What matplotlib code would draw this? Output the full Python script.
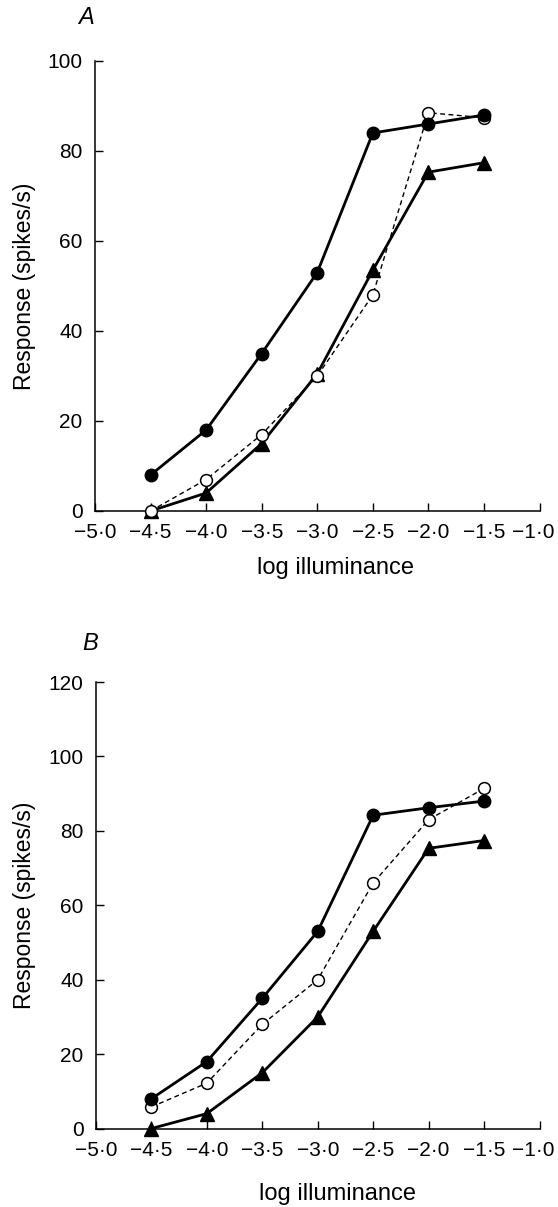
import matplotlib
matplotlib.use("Agg")
import matplotlib.pyplot as plt
import matplotlib.transforms as mtransforms

plt.rcParams['font.family'] = ['Liberation Sans', 'DejaVu Sans']

# log illuminance values (x)
log_illum = [-4.5, -4.0, -3.5, -3.0, -2.5, -2.0, -1.5]

# panel A responses (spikes/s)
a_filled = [8, 18, 35, 53, 84, 86, 88]
a_open = [0, 7, 17, 30, 48, 88.5, 87.4]
a_tri = [0, 4, 15, 30.5, 53.5, 75.3, 77.4]

# panel B responses (spikes/s)
b_filled = [8, 18, 35, 53, 84.2, 86.2, 88]
b_open = [5.8, 12.2, 28, 40, 66, 83, 91.4]
b_tri = [0, 4, 15, 30, 53, 75.3, 77.4]

xticks = [-5.0, -4.5, -4.0, -3.5, -3.0, -2.5, -2.0, -1.5, -1.0]
xticklabels = ['\u22125\u00b70', '\u22124\u00b75', '\u22124\u00b70', '\u22123\u00b75', '\u22123\u00b70',
               '\u22122\u00b75', '\u22122\u00b70', '\u22121\u00b75', '\u22121\u00b70']
a_yticks = [0, 20, 40, 60, 80, 100]
b_yticks = [0, 20, 40, 60, 80, 100, 120]

W, H = 558, 1207
fig = plt.figure(figsize=(W / 100, H / 100), dpi=100)


def panel(rect, filled, opn, tri, yticks, letter, letter_xy):
    ax = fig.add_axes(rect)
    # open circles, dashed
    ax.plot(log_illum, opn, color='black', lw=1.0, ls=(0, (3.5, 2.5)),
            marker='o', ms=8.5, mfc='white', mec='black', mew=1.1,
            clip_on=False, zorder=3)
    # triangles
    ax.plot(log_illum, tri, color='black', lw=2.0, marker='^', ms=9.5,
            mfc='black', mec='black', clip_on=False, zorder=2)
    # filled circles
    ax.plot(log_illum, filled, color='black', lw=2.0, marker='o', ms=9,
            mfc='black', mec='black', clip_on=False, zorder=4)

    ax.set_xlim(-5.0, -1.0)
    ax.set_ylim(yticks[0], yticks[-1])
    ax.set_xticks(xticks)
    ax.set_xticklabels(xticklabels)
    ax.set_yticks(yticks)
    ax.spines['top'].set_visible(False)
    ax.spines['right'].set_visible(False)
    for s in ('left', 'bottom'):
        ax.spines[s].set_linewidth(1.1)
    ax.tick_params(direction='in', length=6, width=1.0, labelsize=15,
                   colors='black')
    ax.tick_params(axis='x', pad=9)
    ax.tick_params(axis='y', pad=9)

    # last tick label sits at the right edge, nudge it inside the figure
    last = ax.get_xticklabels()[-1]
    last.set_transform(last.get_transform() +
                       mtransforms.ScaledTranslation(-6 / 100, 0, fig.dpi_scale_trans))

    ax.set_xlabel('log illuminance', fontsize=17)
    ax.set_ylabel('Response (spikes/s)', fontsize=16.5)
    fig.text(letter_xy[0] / W, 1 - letter_xy[1] / H, letter, fontsize=17,
             style='italic', ha='center', va='center')
    return ax


ax_a = panel([95 / W, 1 - 511 / H, 444.5 / W, 450 / H],
             a_filled, a_open, a_tri, a_yticks, 'A', (86, 18))
ax_a.xaxis.set_label_coords(0.54, -57 / 450)
ax_a.xaxis.label.set_va('center')
ax_a.yaxis.set_label_coords(-70 / 444.5, 0.5)
ax_a.yaxis.label.set_va('center')

ax_b = panel([96 / W, 1 - 1128.5 / H, 443.5 / W, 446.5 / H],
             b_filled, b_open, b_tri, b_yticks, 'B', (90, 643))
ax_b.xaxis.set_label_coords(0.545, -65.5 / 446.5)
ax_b.xaxis.label.set_va('center')
ax_b.yaxis.set_label_coords(-71 / 443.5, 0.5)
ax_b.yaxis.label.set_va('center')

fig.savefig('out.png', dpi=100, facecolor='white')
